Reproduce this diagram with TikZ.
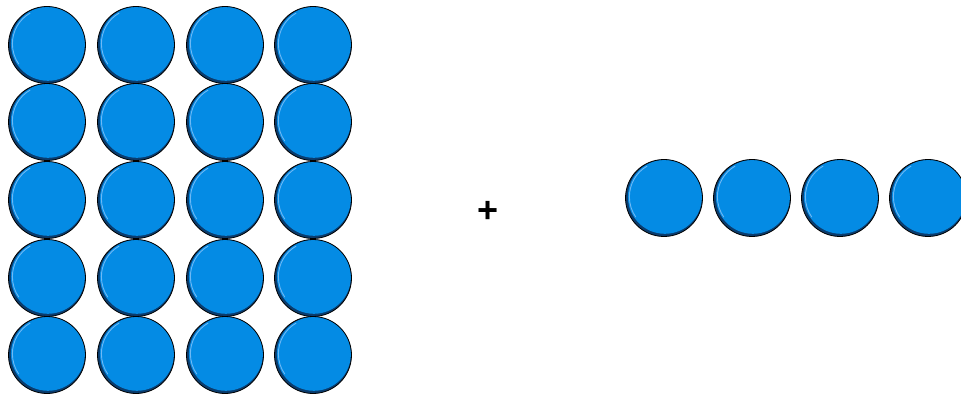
\documentclass[tikz,border=0pt]{standalone}
\usepackage{tikz}
\usepackage{amsmath}
\usepackage{amssymb}
\usepackage{fontspec}
\newfontfamily\plusfont{Liberation Sans}

\definecolor{coinblue}{RGB}{4,139,228}
\definecolor{coindark}{RGB}{10,60,110}
\definecolor{coinlight}{RGB}{110,185,245}

\tikzset{
  coin/.style={circle,draw=black,line width=0.8pt,fill=coindark,minimum size=77pt,inner sep=0pt,
    path picture={
      \fill[coinblue] ([shift={(0.9pt,1.2pt)}]path picture bounding box.center) circle (37pt);
      \draw[coinlight,line width=0.9pt] ([shift={(0.9pt,1.2pt)}]path picture bounding box.center)
        ++(120:35.5pt) arc[start angle=120,end angle=215,radius=35.5pt];
    }}
}

\begin{document}
\begin{tikzpicture}[x=1pt,y=1pt]
      \useasboundingbox (0,0) rectangle (961,394);

      \node[coin] (1)  at ( 47,349) {};
      \node[coin] (2)  at (136,349) {};
      \node[coin] (3)  at (225,349) {};
      \node[coin] (4)  at (313,349) {};
      \node[coin] (5)  at ( 47,272) {};
      \node[coin] (6)  at (136,272) {};
      \node[coin] (7)  at (225,272) {};
      \node[coin] (8)  at (313,272) {};
      \node[coin] (9)  at ( 47,194) {};
      \node[coin] (10) at (136,194) {};
      \node[coin] (11) at (225,194) {};
      \node[coin] (12) at (313,194) {};
      \node[coin] (13) at ( 47,116) {};
      \node[coin] (14) at (136,116) {};
      \node[coin] (15) at (225,116) {};
      \node[coin] (16) at (313,116) {};
      \node[coin] (17) at ( 47, 39) {};
      \node[coin] (18) at (136, 39) {};
      \node[coin] (19) at (225, 39) {};
      \node[coin] (20) at (313, 39) {};

      \node (plus) at (488,182) {\fontsize{36}{36}\selectfont\plusfont\bfseries +};

      \node[coin] (21) at (664,196) {};
      \node[coin] (22) at (752,196) {};
      \node[coin] (23) at (840,196) {};
      \node[coin] (24) at (928,196) {};
    \end{tikzpicture}
\end{document}
